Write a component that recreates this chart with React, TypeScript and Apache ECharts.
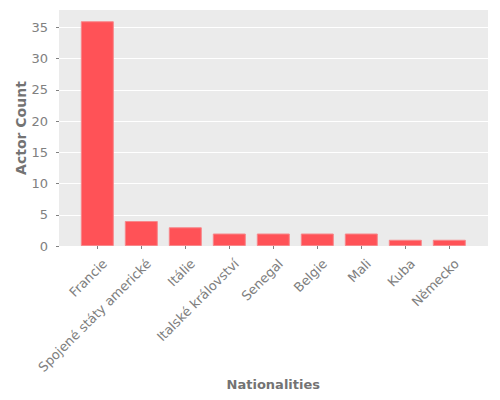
import React, { useEffect, useRef } from "react";
import * as echarts from "echarts";

const categories = [
  "Francie",
  "Spojené státy americké",
  "Itálie",
  "Italské království",
  "Senegal",
  "Belgie",
  "Mali",
  "Kuba",
  "Německo",
];
const actorCounts = [36, 4, 3, 2, 2, 2, 2, 1, 1];
const yTicks = [0, 5, 10, 15, 20, 25, 30, 35];
const yMax = 37.8;
const yInterval = 5;

const FONT = "DejaVu Sans";
const TICK_COLOR = "#808080";
const TITLE_COLOR = "#737373";

export default function App() {
  const ref = useRef<HTMLDivElement>(null);
  useEffect(() => {
    if (!ref.current) return;
    const chart = echarts.init(ref.current, null, { renderer: "svg" });
    chart.setOption({
      animation: false,
      backgroundColor: "#ffffff",
      textStyle: { fontFamily: FONT },
      grid: [
        {
          left: 59,
          right: 12,
          top: 10,
          bottom: 154,
          show: true,
          backgroundColor: "#EBEBEB",
          borderWidth: 0,
        },
        {
          left: 75.3,
          right: 28.7,
          top: 10,
          bottom: 154,
          show: false,
        },
      ],
      xAxis: [
        {
          type: "value",
          gridIndex: 0,
          show: false,
          min: 0,
          max: 1,
        },
        {
          type: "category",
          gridIndex: 1,
          data: categories,
          boundaryGap: true,
          offset: 4,
          axisLine: { show: false },
          axisTick: {
            show: true,
            alignWithLabel: true,
            length: 3,
            lineStyle: { color: TICK_COLOR },
          },
          axisLabel: {
            rotate: 45,
            interval: 0,
            margin: 4,
            color: TICK_COLOR,
            fontFamily: FONT,
            fontSize: 13,
            verticalAlign: "top",
            lineHeight: 15,
            padding: [3, 0, 0, 0],
          },
          name: "Nationalities",
          nameLocation: "middle",
          nameGap: 128,
          nameMoveOverlap: false,
          nameTextStyle: {
            color: TITLE_COLOR,
            fontFamily: FONT,
            fontSize: 13,
            fontWeight: "bold",
          },
        },
      ],
      yAxis: [
        {
          type: "value",
          gridIndex: 0,
          min: 0,
          max: yMax,
          interval: yInterval,
          offset: 5,
          axisLine: { show: false },
          axisTick: {
            show: true,
            length: 3,
            customValues: yTicks,
            lineStyle: { color: TICK_COLOR },
          },
          axisLabel: {
            margin: 6,
            color: TICK_COLOR,
            fontFamily: FONT,
            fontSize: 13,
            customValues: yTicks,
            formatter: (v: number) => (v % yInterval === 0 ? String(v) : ""),
          },
          splitLine: { show: true, lineStyle: { color: "#ffffff", width: 1 } },
          name: "Actor Count",
          nameLocation: "middle",
          nameGap: 26,
          nameMoveOverlap: false,
          nameTextStyle: {
            color: TITLE_COLOR,
            fontFamily: FONT,
            fontSize: 14,
            fontWeight: "bold",
          },
        },
        {
          type: "value",
          gridIndex: 1,
          min: 0,
          max: yMax,
          show: false,
          splitLine: { show: false },
        },
      ],
      series: [
        {
          type: "bar",
          xAxisIndex: 1,
          yAxisIndex: 1,
          data: actorCounts,
          barWidth: 33,
          itemStyle: {
            color: "#FF5257",
            borderColor: "#F7888B",
            borderWidth: 1,
          },
        },
      ],
    });
    return () => chart.dispose();
  }, []);
  return (
    <div
      ref={ref}
      style={{ position: "fixed", left: 0, top: 0, width: 500, height: 400 }}
    />
  );
}
